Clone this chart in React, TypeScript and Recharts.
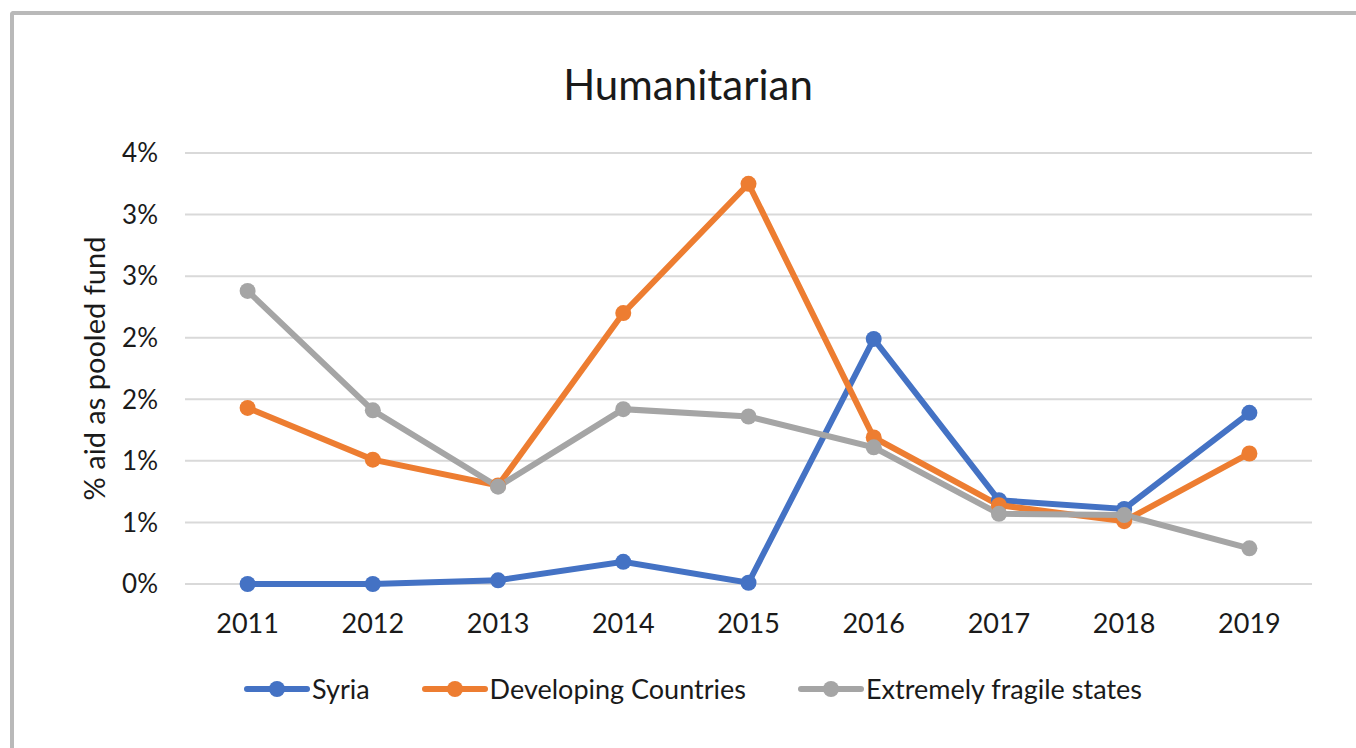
import { LineChart, Line, XAxis, YAxis, CartesianGrid } from 'recharts';

// Share of humanitarian aid channelled through pooled funds, in percent
const years = ['2011', '2012', '2013', '2014', '2015', '2016', '2017', '2018', '2019'];
const syria = [0, 0, 0.03, 0.18, 0.01, 1.99, 0.68, 0.61, 1.39];
const developing = [1.43, 1.01, 0.8, 2.2, 3.25, 1.19, 0.64, 0.51, 1.06];
const fragile = [2.38, 1.41, 0.79, 1.42, 1.36, 1.11, 0.57, 0.56, 0.29];

const yTicks = [0, 0.5, 1, 1.5, 2, 2.5, 3, 3.5];
const yTickLabels = ['0%', '1%', '1%', '2%', '2%', '3%', '3%', '4%'];

const seriesList = [
  { key: 'syria', name: 'Syria', color: '#4472C4' },
  { key: 'developing', name: 'Developing Countries', color: '#ED7D31' },
  { key: 'fragile', name: 'Extremely fragile states', color: '#A5A5A5' },
];

const data = years.map((year, i) => ({
  year,
  syria: syria[i],
  developing: developing[i],
  fragile: fragile[i],
}));

const FONT = 'Lato, "Open Sans", sans-serif';
const TEXT = '#1a1a1a';

function LegendRow() {
  return (
    <div style={{ display: 'flex', justifyContent: 'center', gap: 52, fontFamily: FONT, fontSize: 27, color: TEXT }}>
      {seriesList.map((s) => (
        <div key={s.key} style={{ display: 'flex', alignItems: 'center' }}>
          <svg width={66} height={24} style={{ marginRight: 2 }}>
            <line x1={3} y1={12} x2={63} y2={12} stroke={s.color} strokeWidth={6} strokeLinecap="round" />
            <circle cx={33} cy={12} r={8} fill={s.color} />
          </svg>
          <span>{s.name}</span>
        </div>
      ))}
    </div>
  );
}

function AxisTitle({ viewBox }: any) {
  const cy = viewBox.y + viewBox.height / 2;
  return (
    <text
      x={93}
      y={cy}
      transform={`rotate(-90, 93, ${cy})`}
      textAnchor="middle"
      dominantBaseline="central"
      fontFamily={FONT}
      fontSize={29}
      fill={TEXT}
    >
      % aid as pooled fund
    </text>
  );
}

export default function App() {
  return (
    <div style={{ position: 'absolute', left: 0, top: 0, width: 1356, height: 748, background: '#fff', overflow: 'hidden' }}>
      {/* chart frame */}
      <div
        style={{
          position: 'absolute',
          left: 10,
          top: 11,
          width: 1400,
          height: 733,
          borderTop: '4px solid #b9b9b9',
          borderLeft: '4px solid #b9b9b9',
          borderBottom: '1px solid #e4e4e4',
          borderTopLeftRadius: 4,
        }}
      />
      <div
        style={{
          position: 'absolute',
          left: 0,
          top: 63,
          width: 1376,
          textAlign: 'center',
          fontFamily: FONT,
          fontSize: 42,
          lineHeight: 1,
          color: TEXT,
        }}
      >
        Humanitarian
      </div>
      <div style={{ position: 'absolute', left: 0, top: 0 }}>
        <LineChart width={1356} height={748} data={data} margin={{ top: 153, right: 44, bottom: 134, left: 0 }}>
          <CartesianGrid vertical={false} stroke="#d9d9d9" strokeWidth={2} />
          <XAxis
            dataKey="year"
            height={30}
            axisLine={false}
            tickLine={false}
            tickSize={0}
            tickMargin={30}
            padding={{ left: 62.6, right: 62.6 }}
            tick={{ fill: TEXT, fontSize: 27, fontFamily: FONT }}
          />
          <YAxis
            width={185}
            domain={[0, 3.5]}
            ticks={yTicks}
            tickFormatter={(v: number) => yTickLabels[yTicks.indexOf(v)]}
            axisLine={false}
            tickLine={false}
            tickSize={0}
            tickMargin={27}
            tick={{ fill: TEXT, fontSize: 26, fontFamily: FONT }}
            label={{ content: AxisTitle }}
          />
          {seriesList.map((s) => (
            <Line
              key={s.key}
              type="linear"
              dataKey={s.key}
              name={s.name}
              stroke={s.color}
              strokeWidth={6}
              dot={{ r: 8, fill: s.color, stroke: 'none' }}
              activeDot={false}
              isAnimationActive={false}
            />
          ))}
        </LineChart>
      </div>
      <div style={{ position: 'absolute', left: 15, top: 672, width: 1356 }}>
        <LegendRow />
      </div>
    </div>
  );
}
